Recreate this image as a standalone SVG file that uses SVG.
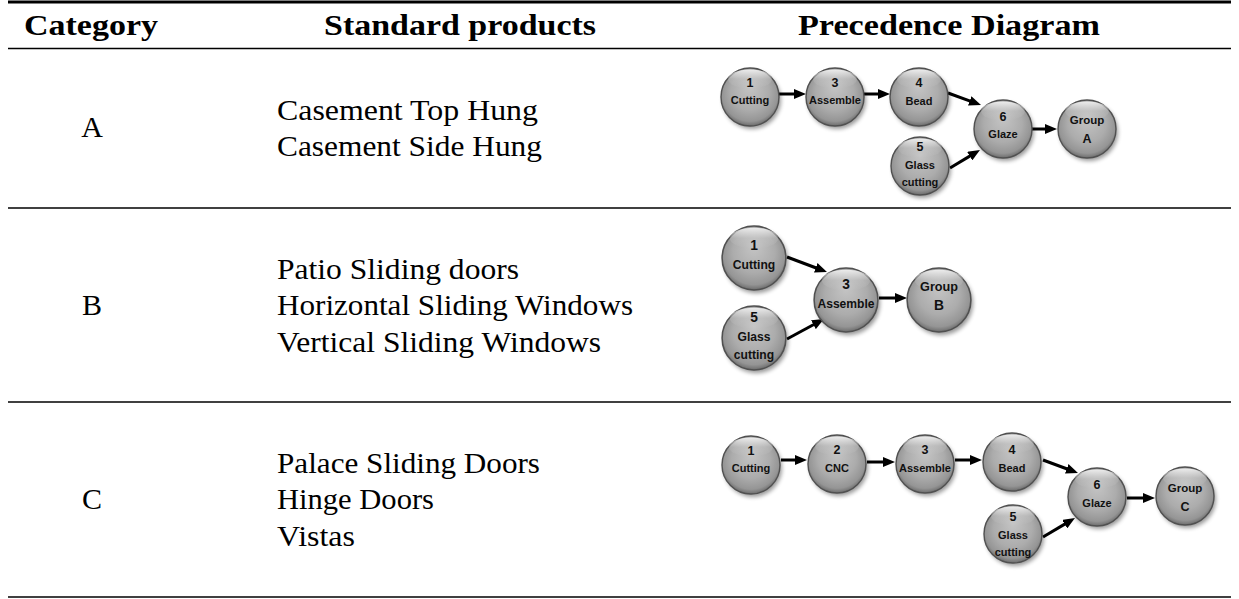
<svg xmlns="http://www.w3.org/2000/svg" xmlns:xlink="http://www.w3.org/1999/xlink" width="1239" height="599" viewBox="0 0 1239 599">
<style>
.rule{stroke:#000;fill:none}
.hd{font-family:"Liberation Serif","Times New Roman",serif;font-weight:bold;font-size:29px;fill:#000}
.tx{font-family:"Liberation Serif","Times New Roman",serif;font-size:30px;fill:#000}
.nt{font-family:"Liberation Sans",Arial,sans-serif;font-weight:bold;fill:#111;text-anchor:middle;dominant-baseline:central}
.num{font-size:12.5px}
.lab{font-size:11px}
.conn{stroke:#000;stroke-width:3;fill:none;marker-end:url(#ah)}
</style>
<defs>
<radialGradient id="sph" cx="0.5" cy="0.45" r="0.55" fx="0.5" fy="0.32">
<stop offset="0" stop-color="#c4c4c4"/>
<stop offset="0.6" stop-color="#acacac"/>
<stop offset="0.88" stop-color="#959595"/>
<stop offset="1" stop-color="#6c6c6c"/>
</radialGradient>
<linearGradient id="gloss" x1="0" y1="0" x2="0" y2="1">
<stop offset="0" stop-color="#fff" stop-opacity="0.8"/>
<stop offset="0.5" stop-color="#fff" stop-opacity="0.15"/>
<stop offset="1" stop-color="#fff" stop-opacity="0"/>
</linearGradient>
<filter id="blur" x="-30%" y="-30%" width="160%" height="160%">
<feGaussianBlur stdDeviation="2"/>
</filter>
<marker id="ah" markerUnits="userSpaceOnUse" markerWidth="12" markerHeight="10" viewBox="0 0 12 10" refX="2" refY="5" orient="auto">
<path d="M0,0 L12,5 L0,10 z" fill="#000"/>
</marker>
<g id="ball">
<circle cx="2" cy="3" r="29" fill="#000" opacity="0.4" filter="url(#blur)"/>
<circle r="29" fill="url(#sph)" stroke="#505050" stroke-width="1.4"/>
<ellipse cx="0" cy="-18" rx="22" ry="9.5" fill="url(#gloss)"/>
</g>
</defs>

<g id="table">
<line class="rule" x1="8" y1="2" x2="1231" y2="2" stroke-width="2.8"/>
<line class="rule" x1="8" y1="48.5" x2="1231" y2="48.5" stroke-width="1.6"/>
<line class="rule" x1="8" y1="208" x2="1231" y2="208" stroke-width="1.3"/>
<line class="rule" x1="8" y1="402" x2="1231" y2="402" stroke-width="1.3"/>
<line class="rule" x1="8" y1="597" x2="1231" y2="597" stroke-width="1.6"/>
</g>

<g id="header">
<text class="hd" x="91" y="35" text-anchor="middle" textLength="134" lengthAdjust="spacingAndGlyphs">Category</text>
<text class="hd" x="460" y="35" text-anchor="middle" textLength="272" lengthAdjust="spacingAndGlyphs">Standard products</text>
<text class="hd" x="949" y="35" text-anchor="middle" textLength="302" lengthAdjust="spacingAndGlyphs">Precedence Diagram</text>
</g>

<g id="row-a-text">
<text class="tx" x="92" y="137" text-anchor="middle">A</text>
<text class="tx" x="277" y="119.5" textLength="261" lengthAdjust="spacingAndGlyphs">Casement Top Hung</text>
<text class="tx" x="277" y="155.5" textLength="265" lengthAdjust="spacingAndGlyphs">Casement Side Hung</text>
</g>
<g id="row-b-text">
<text class="tx" x="92" y="315" text-anchor="middle">B</text>
<text class="tx" x="277" y="278.5" textLength="242" lengthAdjust="spacingAndGlyphs">Patio Sliding doors</text>
<text class="tx" x="277" y="315" textLength="356" lengthAdjust="spacingAndGlyphs">Horizontal Sliding Windows</text>
<text class="tx" x="277" y="351.5" textLength="324" lengthAdjust="spacingAndGlyphs">Vertical Sliding Windows</text>
</g>
<g id="row-c-text">
<text class="tx" x="92" y="509" text-anchor="middle">C</text>
<text class="tx" x="277" y="472.5" textLength="263" lengthAdjust="spacingAndGlyphs">Palace Sliding Doors</text>
<text class="tx" x="277" y="509" textLength="157" lengthAdjust="spacingAndGlyphs">Hinge Doors</text>
<text class="tx" x="277" y="545.5" textLength="78" lengthAdjust="spacingAndGlyphs">Vistas</text>
</g>

<g id="connectors">
<path class="conn" d="M779,94 L796,94"/>
<path class="conn" d="M864,94 L880,94"/>
<path class="conn" d="M948,93 L971.6,101.6"/>
<path class="conn" d="M950,168 L971.4,155.1"/>
<path class="conn" d="M1032,129 L1047,129"/>

<path class="conn" d="M787,257 L817.6,268.5"/>
<path class="conn" d="M787,339 L815.2,323.8"/>
<path class="conn" d="M879,298 L897,298"/>

<path class="conn" d="M781,460 L797,460"/>
<path class="conn" d="M867,462 L885,462"/>
<path class="conn" d="M955,460 L972,460"/>
<path class="conn" d="M1043,460 L1068.6,469.5"/>
<path class="conn" d="M1043,537 L1066.4,523.1"/>
<path class="conn" d="M1127,498 L1145,498"/>
</g>

<!-- Row A diagram -->
<g id="a-n1" transform="translate(750,97)"><use href="#ball"/><text class="nt num" y="-14">1</text><text class="nt lab" y="3">Cutting</text></g>
<g id="a-n3" transform="translate(835,97)"><use href="#ball"/><text class="nt num" y="-14">3</text><text class="nt lab" y="3">Assemble</text></g>
<g id="a-n4" transform="translate(919,97)"><use href="#ball"/><text class="nt num" y="-14">4</text><text class="nt lab" y="4">Bead</text></g>
<g id="a-n5" transform="translate(920,166)"><use href="#ball"/><text class="nt num" y="-19">5</text><text class="nt lab" y="-1">Glass</text><text class="nt lab" y="16">cutting</text></g>
<g id="a-n6" transform="translate(1003,129)"><use href="#ball"/><text class="nt num" y="-12">6</text><text class="nt lab" y="5">Glaze</text></g>
<g id="a-grp" transform="translate(1087,129)"><use href="#ball"/><text class="nt lab" y="-9" style="font-size:11.5px">Group</text><text class="nt num" y="10">A</text></g>

<!-- Row B diagram -->
<g id="b-n1" transform="translate(754,258) scale(1.1)"><use href="#ball"/><text class="nt num" y="-11">1</text><text class="nt lab" y="6">Cutting</text></g>
<g id="b-n5" transform="translate(754,338) scale(1.1)"><use href="#ball"/><text class="nt num" y="-19">5</text><text class="nt lab" y="-1">Glass</text><text class="nt lab" y="15">cutting</text></g>
<g id="b-n3" transform="translate(846,300) scale(1.1)"><use href="#ball"/><text class="nt num" y="-14">3</text><text class="nt lab" y="4">Assemble</text></g>
<g id="b-grp" transform="translate(939,300) scale(1.1)"><use href="#ball"/><text class="nt lab" y="-12" style="font-size:11.5px">Group</text><text class="nt num" y="5">B</text></g>

<!-- Row C diagram -->
<g id="c-n1" transform="translate(751,465)"><use href="#ball"/><text class="nt num" y="-14">1</text><text class="nt lab" y="3">Cutting</text></g>
<g id="c-n2" transform="translate(837,464)"><use href="#ball"/><text class="nt num" y="-14">2</text><text class="nt lab" y="4">CNC</text></g>
<g id="c-n3" transform="translate(925,464)"><use href="#ball"/><text class="nt num" y="-14">3</text><text class="nt lab" y="4">Assemble</text></g>
<g id="c-n4" transform="translate(1012,462)"><use href="#ball"/><text class="nt num" y="-12">4</text><text class="nt lab" y="6">Bead</text></g>
<g id="c-n5" transform="translate(1013,534)"><use href="#ball"/><text class="nt num" y="-17">5</text><text class="nt lab" y="1">Glass</text><text class="nt lab" y="18">cutting</text></g>
<g id="c-n6" transform="translate(1097,497)"><use href="#ball"/><text class="nt num" y="-12">6</text><text class="nt lab" y="6">Glaze</text></g>
<g id="c-grp" transform="translate(1185,496)"><use href="#ball"/><text class="nt lab" y="-8" style="font-size:11.5px">Group</text><text class="nt num" y="11">C</text></g>
</svg>
